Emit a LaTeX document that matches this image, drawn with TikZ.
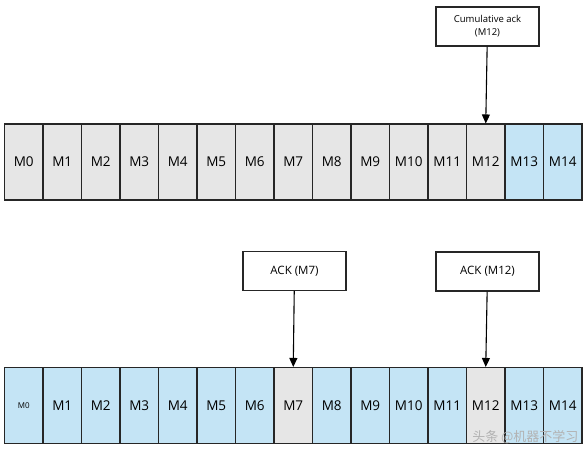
\documentclass[tikz,border=0pt]{standalone}
\usepackage{fontspec}
\setmainfont{Open Sans}
\newfontfamily\cjkfont{Noto Sans CJK SC}
\usetikzlibrary{arrows.meta}
\definecolor{ackgray}{HTML}{E6E6E6}
\definecolor{sentblue}{HTML}{C4E4F5}
\definecolor{edge}{HTML}{262626}
\tikzset{
    cell/.style={draw=edge, line width=1.1pt, minimum width=38.5pt, minimum height=76pt, inner sep=0pt, font=\fontsize{13.5}{15}\selectfont},
    ackbox/.style={draw=edge, fill=white, line width=1.1pt, minimum width=103pt, minimum height=39pt, align=center, inner sep=1pt},
    ackarrow/.style={-{Triangle[length=9pt,width=8pt]}, line width=1.1pt, black}
}
\begin{document}
\begin{tikzpicture}[x=1pt,y=-1pt]
            \useasboundingbox (0,0) rectangle (588,451);
            % upper row: cumulative ack
            \foreach \i in {0,...,14} {
                \ifnum\i<13 \def\cellfill{ackgray}\else \def\cellfill{sentblue}\fi
                \node[cell, fill=\cellfill] (t\i) at (23.75+38.5*\i,162) {M\i};
            }
            \node[ackbox, font=\fontsize{9.5}{13}\selectfont] (cumack) at (487.5,26.5) {Cumulative ack\\(M12)};
            \draw[ackarrow] (cumack) -- (t12.north);
            % lower row: selective ack
            \foreach \i in {0,...,14} {
                \def\cellfill{sentblue}
                \ifnum\i=7 \def\cellfill{ackgray}\fi
                \ifnum\i=12 \def\cellfill{ackgray}\fi
                \node[cell, fill=\cellfill] (b\i) at (23.75+38.5*\i,405.5) {\ifnum\i=0 \footnotesize\fi M\i};
            }
            \node[ackbox, font=\fontsize{11.5}{14}\selectfont] (ack7) at (294.5,271) {ACK (M7)};
            \node[ackbox, font=\fontsize{11.5}{14}\selectfont] (ack12) at (487.5,271.5) {ACK (M12)};
            \draw[ackarrow] (ack7) -- (b7.north);
            \draw[ackarrow] (ack12) -- (b12.north);
            \node[font=\cjkfont\fontsize{13}{15}\selectfont, text=gray!60, anchor=east] (mark) at (582,437) {头条 @机器不学习};
        \end{tikzpicture}
\end{document}
